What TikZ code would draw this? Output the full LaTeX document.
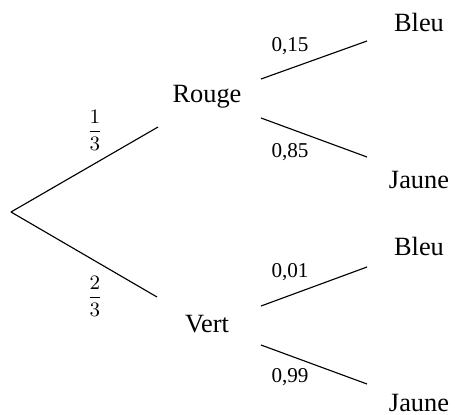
\documentclass[tikz,border=0pt]{standalone}
\usepackage{fontspec}
\setmainfont{Liberation Serif}
\begin{document}
\begin{tikzpicture}[x=0.44pt,y=-0.44pt,
  lbl/.style={font=\fontsize{9.3}{11}\selectfont,inner sep=0pt},
  txt/.style={font=\fontsize{11.6}{13}\selectfont,inner sep=0pt},
  br/.style={line width=0.5pt}]
\useasboundingbox (0,0) rectangle (455,414);
% root
\coordinate (O) at (11,212);
% level 1
\node[txt] (R) at (207,97) {Rouge};
\node[txt] (V) at (207,324) {Vert};
\coordinate (Rin) at (158,127);
\coordinate (Vin) at (157,297);
\coordinate (Rout1) at (261,79);
\coordinate (Rout2) at (261,118);
\coordinate (Vout1) at (261,306);
\coordinate (Vout2) at (261,345);
% level 2
\node[txt] (B1) at (419,22) {Bleu};
\node[txt] (J1) at (419,180) {Jaune};
\node[txt] (B2) at (419,246) {Bleu};
\node[txt] (J2) at (419,403) {Jaune};
\coordinate (B1in) at (367,41);
\coordinate (J1in) at (367,157);
\coordinate (B2in) at (367,267);
\coordinate (J2in) at (367,384);
% branches
\draw[br] (O) -- (Rin);
\draw[br] (O) -- (Vin);
\draw[br] (Rout1) -- (B1in);
\draw[br] (Rout2) -- (J1in);
\draw[br] (Vout1) -- (B2in);
\draw[br] (Vout2) -- (J2in);
% labels
\node[lbl] (p1) at (95,130) {$\displaystyle\frac{1}{3}$};
\node[lbl] (p2) at (95,296) {$\displaystyle\frac{2}{3}$};
\node[lbl] (q1) at (290,46) {0,15};
\node[lbl] (q2) at (290,152) {0,85};
\node[lbl] (q3) at (290,272) {0,01};
\node[lbl] (q4) at (290,377) {0,99};
\end{tikzpicture}
\end{document}
